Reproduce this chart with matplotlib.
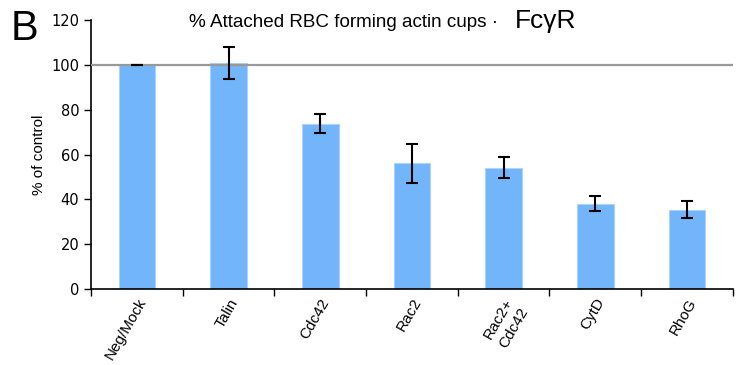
import matplotlib
matplotlib.use('Agg')
import matplotlib.pyplot as plt

labels = ['Neg/Mock', 'Talin', 'Cdc42', 'Rac2', 'Rac2+\nCdc42', 'CytD', 'RhoG']
values = [100, 100.8, 73.7, 56.1, 54.0, 37.9, 35.4]
err_low = [99.9, 93.9, 69.5, 47.5, 49.4, 34.7, 31.6]
err_high = [100.1, 107.9, 78.1, 64.9, 58.8, 41.5, 39.4]

yerr = [[v - lo for v, lo in zip(values, err_low)],
        [hi - v for v, hi in zip(values, err_high)]]

fig = plt.figure(figsize=(7.41, 3.65), dpi=100)
ax = fig.add_axes([0.1228, 0.2082, 0.989 - 0.1228, 0.945 - 0.2082])

x = list(range(len(labels)))
ax.bar(x, values, width=0.4, color='#72b5fa', edgecolor='#a9d2fc', linewidth=0.8, zorder=2)
ax.axhline(100, color='#999999', linewidth=1.6, zorder=3)
ax.errorbar(x, values, yerr=yerr, fmt='none', ecolor='black', elinewidth=1.5,
            capsize=4.5, capthick=1.5, zorder=4)

ax.set_xlim(-0.5, 6.5)
ax.set_ylim(0, 120)
ax.set_yticks(range(0, 121, 20))
ax.tick_params(axis='y', direction='out', length=5, width=1, labelsize=10.5)
for t in ax.get_yticklabels():
    t.set_family('DejaVu Sans')

# boundaries get the tick marks, bar centres get the names
ax.set_xticks([i - 0.5 for i in range(len(labels) + 1)])
ax.set_xticklabels([])
ax.set_xticks(x, minor=True)
ax.set_xticklabels(labels, minor=True, rotation=60, ha='right', va='top',
                   rotation_mode='anchor', fontsize=11, family='Liberation Sans',
                   linespacing=1.35, multialignment='center')
ax.tick_params(axis='x', which='major', direction='out', length=5, width=1)
ax.tick_params(axis='x', which='minor', length=0, pad=5)

ax.spines['top'].set_visible(False)
ax.spines['right'].set_visible(False)
ax.spines['left'].set_linewidth(1.2)
ax.spines['bottom'].set_linewidth(1.2)

ax.set_ylabel('% of control', family='Liberation Sans', fontsize=11, labelpad=4)

fig.text(0.255, 0.938, '% Attached RBC forming actin cups \u00b7', family='Liberation Sans',
         fontsize=13.6, ha='left', va='center')
fig.text(0.695, 0.942, 'Fc\u03b3R', family='Liberation Sans', fontsize=19,
         ha='left', va='center')
fig.text(0.015, 0.92, 'B', family='Liberation Sans', fontsize=30, ha='left', va='center')

fig.savefig('out.png', dpi=100)
